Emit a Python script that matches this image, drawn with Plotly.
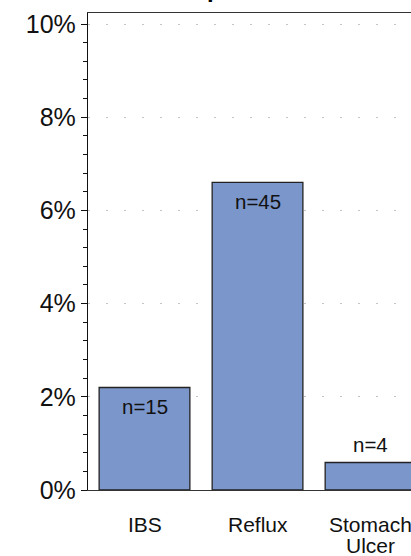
import plotly.graph_objects as go

categories = ["IBS", "Reflux", "Stomach<br>Ulcer"]
values = [2.2, 6.6, 0.59]
labels = ["n=15", "n=45", "n=4"]
label_inside = [True, True, False]
ytick_vals = [0, 2, 4, 6, 8, 10]
ytick_text = ["0%", "2%", "4%", "6%", "8%", "10%"]

FONT = "Liberation Sans, Arial, Helvetica, sans-serif"

fig = go.Figure()
fig.add_trace(go.Bar(
    x=categories, y=values, cliponaxis=True,
    marker=dict(color="#7b96cb", line=dict(color="#222", width=1.3)),
))

# value labels
for cat, val, lab, inside in zip(categories, values, labels, label_inside):
    fig.add_annotation(
        x=cat, y=val, text=lab, showarrow=False,
        yanchor="top" if inside else "bottom",
        yshift=-6 if inside else 5,
        font=dict(family=FONT, size=20.5, color="#111"),
    )

# category labels (tight line spacing for multi-line names)
for cat in categories:
    for i, line in enumerate(cat.split("<br>")):
        fig.add_annotation(
            x=cat, xref="x", y=0, yref="paper", text=line, showarrow=False,
            yanchor="top", yshift=-21 - i * 21,
            font=dict(family=FONT, size=21, color="#111"),
        )

fig.add_annotation(text="<b>prevalence</b>", xref="paper", yref="paper",
                   x=(205 - 88) / 323, y=1.0, yshift=9, xanchor="left", yanchor="bottom",
                   showarrow=False, font=dict(family=FONT, size=24, color="#000"))

fig.update_layout(
    width=411, height=556,
    margin=dict(l=88, r=0, t=13, b=66, autoexpand=False),
    paper_bgcolor="white", plot_bgcolor="white",
    showlegend=False, bargap=0.197,
    font=dict(family=FONT, size=21, color="#111"),
)
fig.update_xaxes(
    range=[-0.5, 2.358], showline=True, mirror=True, linecolor="#333", linewidth=1.3,
    ticks="", showgrid=False, showticklabels=False, automargin=False,
)
fig.update_yaxes(
    range=[0, 10.236], tickvals=ytick_vals, ticktext=ytick_text,
    showline=True, linecolor="#111", linewidth=1.3,
    ticks="outside", ticklen=6, tickcolor="#111", tickwidth=1.3,
    tickfont=dict(size=25, color="#111"), automargin=False,
    showgrid=True, gridcolor="#c4c4c4", griddash="2px,16px", gridwidth=1,
    zeroline=False,
    minor=dict(dtick=0.4, ticks="outside", ticklen=4, tickcolor="#111", showgrid=False),
)

fig.write_html("out.html", config={"displayModeBar": False},
               post_script="document.body.style.margin='0';")
